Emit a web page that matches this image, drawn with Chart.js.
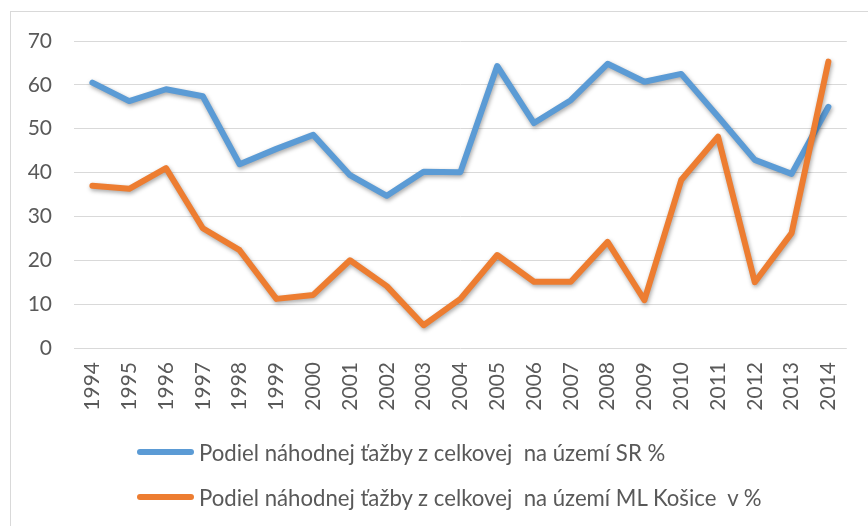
<!DOCTYPE html>
<html>
<head>
<meta charset="utf-8">
<script src="https://cdn.jsdelivr.net/npm/chart.js@4.4.1/dist/chart.umd.min.js"></script>
<style>
  html, body { margin: 0; padding: 0; background: #fff; overflow: hidden; }
  #wrap { position: relative; width: 868px; height: 526px; overflow: hidden; }
  #frame { position: absolute; left: 10px; top: 11px; width: 900px; height: 600px; border: 1px solid #d9d9d9; box-sizing: border-box; }
  #c { position: absolute; left: 0; top: 0; }
  .lg { position: absolute; left: 137px; height: 30px; display: flex; align-items: center;
        font-family: Lato, sans-serif; font-size: 22.2px; color: #595959; white-space: pre; }
  .lg .sw { width: 57px; height: 6px; border-radius: 3px; margin-right: 5px; }
</style>
</head>
<body>
<div id="wrap">
  <div id="frame"></div>
  <canvas id="c" width="868" height="526"></canvas>
  <div id="legend"></div>
</div>
<script>
const years = ["1994","1995","1996","1997","1998","1999","2000","2001","2002","2003","2004",
               "2005","2006","2007","2008","2009","2010","2011","2012","2013","2014"];
const sharesSR = [60.5, 56.3, 59, 57.4, 41.9, 45.4, 48.6, 39.4, 34.7, 40.2, 40.1,
                  64.3, 51.3, 56.5, 64.8, 60.7, 62.5, 52.8, 42.9, 39.7, 55];
const sharesKosice = [37, 36.3, 41, 27.3, 22.3, 11.2, 12.1, 20, 14.1, 5.2, 11.2,
                      21.2, 15.1, 15.1, 24.2, 10.9, 38.3, 48.2, 15, 26.2, 65.3];
const seriesNames = ["Podiel náhodnej ťažby z celkovej  na území SR %",
                     "Podiel náhodnej ťažby z celkovej  na území ML Košice  v %"];
const seriesColors = ["#5B9BD5", "#ED7D31"];
const yTicks = [0, 10, 20, 30, 40, 50, 60, 70];

const FONT = "Lato, sans-serif";
const TXT = "#595959";

const shadowPlugin = {
  id: "lineShadow",
  beforeDatasetDraw(chart) {
    const ctx = chart.ctx;
    ctx.save();
    ctx.shadowColor = "rgba(0,0,0,0.35)";
    ctx.shadowBlur = 4;
    ctx.shadowOffsetX = 1;
    ctx.shadowOffsetY = 2;
  },
  afterDatasetDraw(chart) {
    chart.ctx.restore();
  }
};

const chart = new Chart(document.getElementById("c"), {
  type: "line",
  data: {
    labels: years,
    datasets: [
      { label: seriesNames[0], data: sharesSR, borderColor: seriesColors[0], order: 1 },
      { label: seriesNames[1], data: sharesKosice, borderColor: seriesColors[1], order: 0 }
    ].map(d => Object.assign(d, {
      borderWidth: 6, pointRadius: 0, tension: 0, fill: false,
      borderCapStyle: "round", borderJoinStyle: "round", backgroundColor: d.borderColor
    }))
  },
  options: {
    responsive: false,
    animation: false,
    layout: { padding: { top: 41, right: 17, bottom: 108, left: 0 } },
    plugins: { legend: { display: false }, tooltip: { enabled: false } },
    scales: {
      x: {
        offset: true,
        grid: { display: false, drawTicks: false },
        border: { display: false },
        ticks: { color: TXT, font: { family: FONT, size: 21 }, minRotation: 90, maxRotation: 90, padding: 14, autoSkip: false },
        afterFit(s) { s.height = 70; }
      },
      y: {
        min: 0, max: 70,
        afterBuildTicks(s) { s.ticks = yTicks.map(v => ({ value: v })); },
        grid: { color: "#d9d9d9", lineWidth: 1, drawTicks: false },
        border: { display: false },
        ticks: { color: TXT, font: { family: FONT, size: 21 }, padding: 22 },
        afterFit(s) { s.width = 74; }
      }
    }
  },
  plugins: [shadowPlugin]
});

const lg = document.getElementById("legend");
const legendTops = [437, 482];
seriesNames.forEach((name, i) => {
  const row = document.createElement("div");
  row.className = "lg";
  row.style.top = legendTops[i] + "px";
  const sw = document.createElement("div");
  sw.className = "sw";
  sw.style.background = seriesColors[i];
  const t = document.createElement("span");
  t.textContent = name;
  row.appendChild(sw);
  row.appendChild(t);
  lg.appendChild(row);
});
</script>
</body>
</html>
